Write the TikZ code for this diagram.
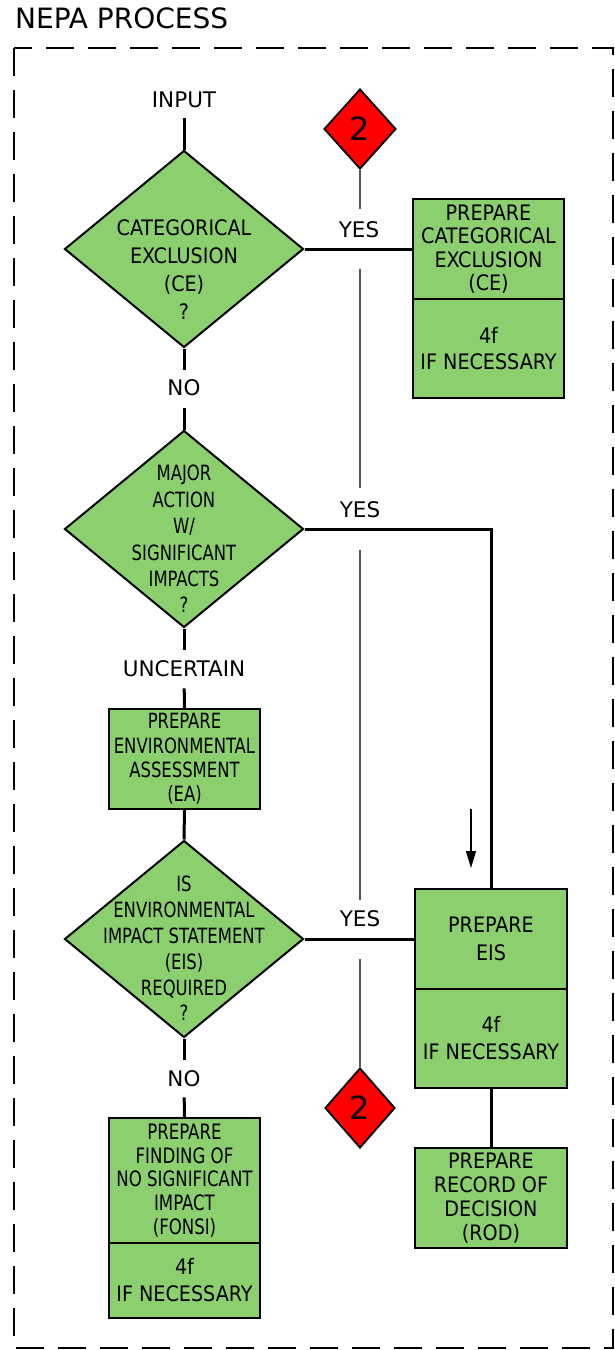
\documentclass[tikz,border=0pt]{standalone}
\usepackage{fontspec}
\setmainfont{DejaVu Sans}
\newfontfamily\condf{DejaVu Sans Condensed}
\newfontfamily\narf[FakeStretch=0.87]{DejaVu Sans Condensed}
\usetikzlibrary{shapes.geometric,arrows.meta,calc}
\definecolor{boxgreen}{HTML}{8CCF6E}
\definecolor{redd}{HTML}{FF0000}
\definecolor{thingray}{HTML}{555555}
\begin{document}
\begin{tikzpicture}[x=1pt,y=-1pt,
  box/.style={draw=black,line width=2.4pt,fill=boxgreen,minimum width=151pt,inner sep=0pt,align=center},
  dia/.style={diamond,draw=black,line width=2pt,fill=boxgreen,minimum width=239pt,minimum height=197pt,inner sep=0pt},
  dtext/.style={align=center,inner sep=0pt},
  lbl/.style={inner sep=0pt,font=\fontsize{21.5}{24}\selectfont},
  conn/.style={line width=3pt},
  thinl/.style={line width=1.3pt,draw=thingray},
  reddia/.style={diamond,draw=black,line width=1.8pt,fill=redd,minimum width=72pt,minimum height=80pt,inner sep=0pt,font=\fontsize{32}{32}\selectfont}]
\useasboundingbox (0,0) rectangle (615,1350);
% frame and title
\draw[line width=2pt,dash pattern=on 28pt off 14pt] (14,48) rectangle (613,1348);
\node[anchor=west,inner sep=0pt,font=\fontsize{28}{30}\selectfont] (title) at (15,18) {NEPA PROCESS};
% diamonds
\node[dia] (d1) at (184,249) {};
\node[dtext,font=\condf\fontsize{21.3}{28}\selectfont] (t1) at (184,270) {CATEGORICAL\\EXCLUSION\\(CE)\\?};
\node[dia] (d2) at (184,529) {};
\node[dtext,font=\narf\fontsize{21}{26.4}\selectfont] (t2) at (184,539) {MAJOR\\ACTION\\W/\\SIGNIFICANT\\IMPACTS\\?};
\node[dia] (d3) at (184,939) {};
\node[dtext,font=\narf\fontsize{21}{25.8}\selectfont] (t3) at (184,948.5) {IS\\ENVIRONMENTAL\\IMPACT STATEMENT\\(EIS)\\REQUIRED\\?};
% boxes
\node[box,minimum height=100pt,font=\condf\fontsize{21.3}{23.3}\selectfont] (ce) at (488.5,249) {PREPARE\\CATEGORICAL\\EXCLUSION\\(CE)};
\node[box,minimum height=99pt,font=\condf\fontsize{21.3}{26}\selectfont] (ce4f) at (488.5,348.5) {4f\\IF NECESSARY};
\node[box,minimum height=100pt,font=\narf\fontsize{21}{24.3}\selectfont] (ea) at (184.5,759) {PREPARE\\ENVIRONMENTAL\\ASSESSMENT\\(EA)};
\node[box,minimum width=152pt,minimum height=100pt,font=\condf\fontsize{21.3}{28}\selectfont] (eis) at (491,939) {PREPARE\\EIS};
\node[box,minimum width=152pt,minimum height=99pt,font=\condf\fontsize{21.3}{27}\selectfont] (eis4f) at (491,1038.5) {4f\\IF NECESSARY};
\node[box,minimum height=125pt,font=\narf\fontsize{21.2}{23.8}\selectfont] (fonsi) at (184.5,1180.5) {PREPARE\\FINDING OF\\NO SIGNIFICANT\\IMPACT\\(FONSI)};
\node[box,minimum height=75pt,font=\condf\fontsize{21.3}{27}\selectfont] (fonsi4f) at (184.5,1280.5) {4f\\IF NECESSARY};
\node[box,minimum width=152pt,minimum height=100pt,font=\condf\fontsize{21.3}{24}\selectfont] (rod) at (491,1198) {PREPARE\\RECORD OF\\DECISION\\(ROD)};
% red connectors
\node[reddia] (r1) at (360,129) {2};
\node[reddia,minimum width=70pt] (r2) at (360,1108) {2};
% labels
\node[lbl] (input) at (184,100) {INPUT};
\node[lbl] (yes1) at (359,230) {YES};
\node[lbl] (no1) at (184,388) {NO};
\node[lbl] (yes2) at (360,510) {YES};
\node[lbl] (unc) at (184,669) {UNCERTAIN};
\node[lbl] (yes3) at (360,919) {YES};
\node[lbl] (no2) at (184,1079) {NO};
% coordinates
\coordinate (inTop) at (184,118);
\coordinate (g1a) at (360,209);
\coordinate (g1b) at (360,269);
\coordinate (g2a) at (360,488);
\coordinate (g2b) at (360,550);
\coordinate (g3a) at (360,900);
\coordinate (g3b) at (360,959);
\coordinate (arA) at (471,809);
\coordinate (arB) at (471,868);
% thick connectors
\draw[conn] (inTop) -- (d1.north);
\draw[conn,shorten >=10pt] (d1.south) -- (no1.north);
\draw[conn,shorten <=12pt] (no1.south) -- (d2.north);
\draw[conn,shorten >=11pt] (d2.south) -- (unc.north);
\draw[conn,shorten <=11pt] (unc.south) -- (ea.north);
\draw[conn] (ea.south) -- (d3.north);
\draw[conn,shorten >=11pt] (d3.south) -- (no2.north);
\draw[conn,shorten <=10pt] (no2.south) -- (fonsi.north);
\draw[conn] (d1.east) -- (ce.west);
\draw[conn] (d2.east) -| (eis.north);
\draw[conn] (d3.east) -- (eis.west);
\draw[conn] (eis4f.south) -- (rod.north);
% thin line
\draw[thinl] (r1.south) -- (g1a);
\draw[thinl] (g1b) -- (g2a);
\draw[thinl] (g2b) -- (g3a);
\draw[thinl] (g3b) -- (r2.north);
% small arrow
\draw[line width=1.2pt,-{Triangle[length=17pt,width=10pt]}] (arA) -- (arB);
\end{tikzpicture}
\end{document}
